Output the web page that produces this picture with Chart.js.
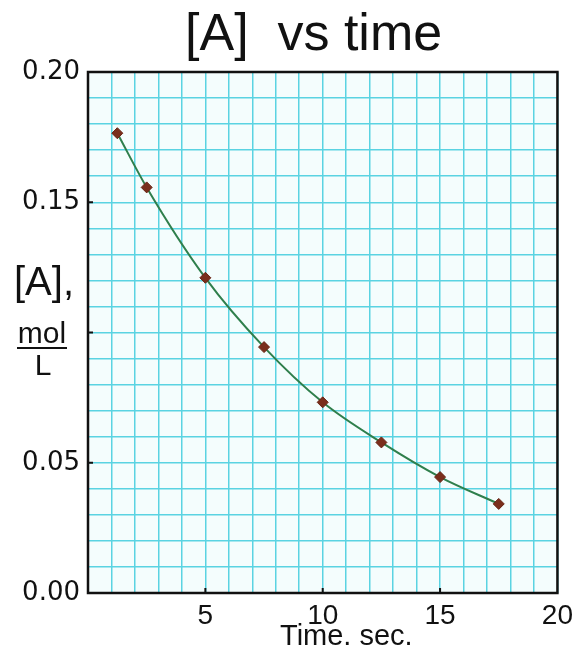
<!DOCTYPE html>
<html>
<head>
<meta charset="utf-8">
<script src="https://cdn.jsdelivr.net/npm/chart.js@4.4.0/dist/chart.umd.min.js"></script>
<style>
  html, body { margin: 0; padding: 0; background: #ffffff; }
  canvas { display: block; }
</style>
</head>
<body>
<canvas id="c" width="579" height="651"></canvas>
<script>
// ---- data ----
const chartTitle = "[A]  vs time";
const xAxisTitle = "Time. sec.";
const yLabelTop = "[A],";
const yLabelNum = "mol";
const yLabelDen = "L";
const times = [1.25, 2.5, 5, 7.5, 10, 12.5, 15, 17.5];
const concentrations = [0.1765, 0.1557, 0.121, 0.0944, 0.0732, 0.0578, 0.0445, 0.0342];
const xLabeledTicks = [5, 10, 15, 20];
const yLabeledTicks = [0.00, 0.05, 0.15, 0.20];
const xMarkTicks = [5, 10, 15];
const yMarkTicks = [0.05, 0.10, 0.15];

const points = times.map((t, i) => ({ x: t, y: concentrations[i] }));

const decorPlugin = {
  id: 'decor',
  beforeDraw(chart) {
    const { ctx, chartArea: a } = chart;
    ctx.save();
    ctx.fillStyle = '#f4fdfd';
    ctx.fillRect(a.left, a.top, a.right - a.left, a.bottom - a.top);
    ctx.restore();
  },
  afterDraw(chart) {
    const { ctx, chartArea: a, scales } = chart;
    ctx.save();
    // plot frame
    ctx.strokeStyle = '#111111';
    ctx.lineWidth = 2.5;
    ctx.strokeRect(a.left, a.top, a.right - a.left, a.bottom - a.top);
    // small inward tick marks
    ctx.lineWidth = 2;
    ctx.beginPath();
    xMarkTicks.forEach(v => {
      const px = scales.x.getPixelForValue(v);
      ctx.moveTo(px, a.bottom);
      ctx.lineTo(px, a.bottom - 5);
    });
    yMarkTicks.forEach(v => {
      const py = scales.y.getPixelForValue(v);
      ctx.moveTo(a.left, py);
      ctx.lineTo(a.left + 5, py);
    });
    ctx.stroke();
    ctx.fillStyle = '#111111';
    // title
    ctx.font = '52px "Liberation Sans", Arial, sans-serif';
    ctx.textAlign = 'left';
    ctx.textBaseline = 'alphabetic';
    ctx.fillText(chartTitle, 185, 50);
    // x axis title
    ctx.font = '29px "Liberation Sans", Arial, sans-serif';
    ctx.fillText(xAxisTitle, 280, 645);
    // y axis label: [A], mol / L
    ctx.font = '40px "Liberation Sans", Arial, sans-serif';
    ctx.fillText(yLabelTop, 14, 295);
    ctx.font = '30px "Liberation Sans", Arial, sans-serif';
    ctx.textAlign = 'center';
    ctx.fillText(yLabelNum, 42, 343);
    ctx.fillText(yLabelDen, 43, 375);
    ctx.lineWidth = 2;
    ctx.beginPath();
    ctx.moveTo(17, 348);
    ctx.lineTo(67, 348);
    ctx.stroke();
    ctx.restore();
  }
};

new Chart(document.getElementById('c'), {
  type: 'scatter',
  data: {
    datasets: [{
      data: points,
      showLine: true,
      borderColor: '#2f7f4c',
      borderWidth: 2,
      cubicInterpolationMode: 'monotone',
      pointStyle: 'rectRot',
      pointRadius: 5.5,
      pointBackgroundColor: '#7a2e1c',
      pointBorderColor: '#6a2414',
      pointBorderWidth: 1
    }]
  },
  options: {
    responsive: false,
    animation: false,
    layout: { padding: { top: 72, right: 20, bottom: 0, left: 0 } },
    plugins: {
      legend: { display: false },
      title: { display: false },
      tooltip: { enabled: false }
    },
    scales: {
      x: {
        type: 'linear',
        min: 0,
        max: 20,
        border: { display: false },
        grid: { color: '#5ad3e2', lineWidth: 1.5, drawTicks: false },
        afterFit(scale) { scale.height = 58; },
        ticks: {
          stepSize: 1,
          autoSkip: false,
          maxRotation: 0,
          padding: 6,
          color: '#111111',
          font: { family: '"Liberation Sans", Arial, sans-serif', size: 28 },
          callback(v) { return xLabeledTicks.includes(v) ? String(v) : ''; }
        }
      },
      y: {
        type: 'linear',
        min: 0,
        max: 0.2,
        border: { display: false },
        grid: { color: '#5ad3e2', lineWidth: 1.5, drawTicks: false },
        afterFit(scale) { scale.width = 88; },
        ticks: {
          stepSize: 0.01,
          autoSkip: false,
          padding: 8,
          color: '#111111',
          font: { family: '"DejaVu Sans", sans-serif', size: 26 },
          callback(v) {
            const hit = yLabeledTicks.some(t => Math.abs(t - v) < 1e-6);
            return hit ? v.toFixed(2) : '';
          }
        }
      }
    }
  },
  plugins: [decorPlugin]
});
</script>
</body>
</html>
